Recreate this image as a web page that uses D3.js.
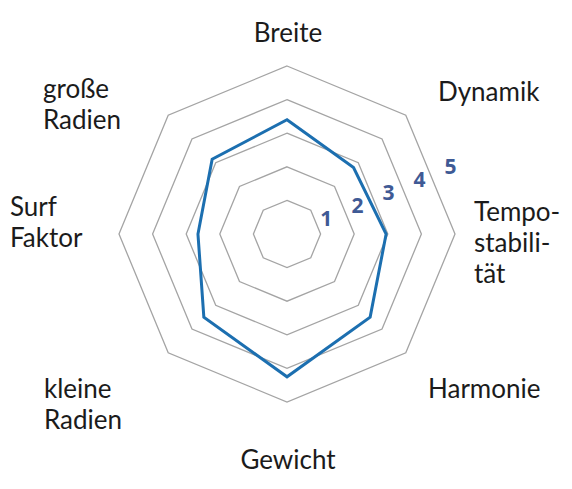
<!DOCTYPE html>
<html>
<head>
<meta charset="utf-8">
<script src="https://cdn.jsdelivr.net/npm/d3@7"></script>
<style>
  body { margin: 0; background: #fff; }
  .label { font-family: Lato, "Open Sans", sans-serif; font-size: 26px; fill: #1b1b1b; }
  .level { font-family: "Open Sans", sans-serif; font-weight: 700; font-size: 21px; fill: #3f5a95; }
</style>
</head>
<body>
<svg id="chart" width="572" height="489"></svg>
<script>
// axes clockwise from top
const axes = ["Breite", "Dynamik", "Tempostabilität", "Harmonie", "Gewicht", "kleine Radien", "Surf Faktor", "große Radien"]
const values = [3.4, 2.8, 2.95, 3.5, 4.25, 3.5, 2.65, 3.15]
const levels = [1, 2, 3, 4, 5]

// label text lines, one entry per axis
const labelLines = [["Breite"], ["Dynamik"], ["Tempo-", "stabili-", "tät"], ["Harmonie"], ["Gewicht"], ["kleine", "Radien"], ["Surf", "Faktor"], ["große", "Radien"]]
// where each label block sits: x, first baseline, anchor
const labelPos = [
  {x: 288, y: 42, a: "middle"},
  {x: 438, y: 101, a: "start"},
  {x: 474, y: 221, a: "start"},
  {x: 428, y: 398, a: "start"},
  {x: 288, y: 469, a: "middle"},
  {x: 44, y: 398, a: "start"},
  {x: 10, y: 216, a: "start"},
  {x: 43, y: 98, a: "start"}
]
const lineGap = 31

const cx = 287, cy = 234
const svg = d3.select("#chart")
const g = svg.append("g").attr("transform", "translate(" + cx + "," + cy + ")")

let r = d3.scaleLinear().domain([0, 5]).range([0, 168])
let step = 2 * Math.PI / axes.length
let ang = (d, i) => i * step

// grid octagons
let radial = d3.lineRadial().curve(d3.curveLinearClosed)

g.selectAll(".grid")
  .data(levels)
  .enter().append("path")
  .attr("class", "grid")
  .attr("d", lv => radial(axes.map((a, i) => [ang(a, i), r(lv)])))
  .attr("fill", "none")
  .attr("stroke", "#a4a4a4")
  .attr("stroke-width", 1.3)

// data polygon
g.append("path")
  .datum(values)
  .attr("d", radial.angle((d, i) => ang(d, i)).radius(d => r(d)))
  .attr("fill", "none")
  .attr("stroke", "#1c6fb0")
  .attr("stroke-width", 3)
  .attr("stroke-linejoin", "miter")

// level numbers between Dynamik and Tempostabilität
let tickAngle = 1.5 * step
g.selectAll(".level")
  .data(levels)
  .enter().append("text")
  .attr("class", "level")
  .attr("text-anchor", "middle")
  .attr("dominant-baseline", "central")
  .attr("x", lv => Math.sin(tickAngle) * (r(lv) + 9))
  .attr("y", lv => -Math.cos(tickAngle) * (r(lv) + 9))
  .text(lv => lv)

// axis labels
labelLines.forEach((lines, i) => {
  let p = labelPos[i]
  let t = svg.append("text")
    .attr("class", "label")
    .attr("text-anchor", p.a)
  lines.forEach((ln, j) => {
    t.append("tspan").attr("x", p.x).attr("y", p.y + j * lineGap).text(ln)
  })
})
</script>
</body>
</html>
